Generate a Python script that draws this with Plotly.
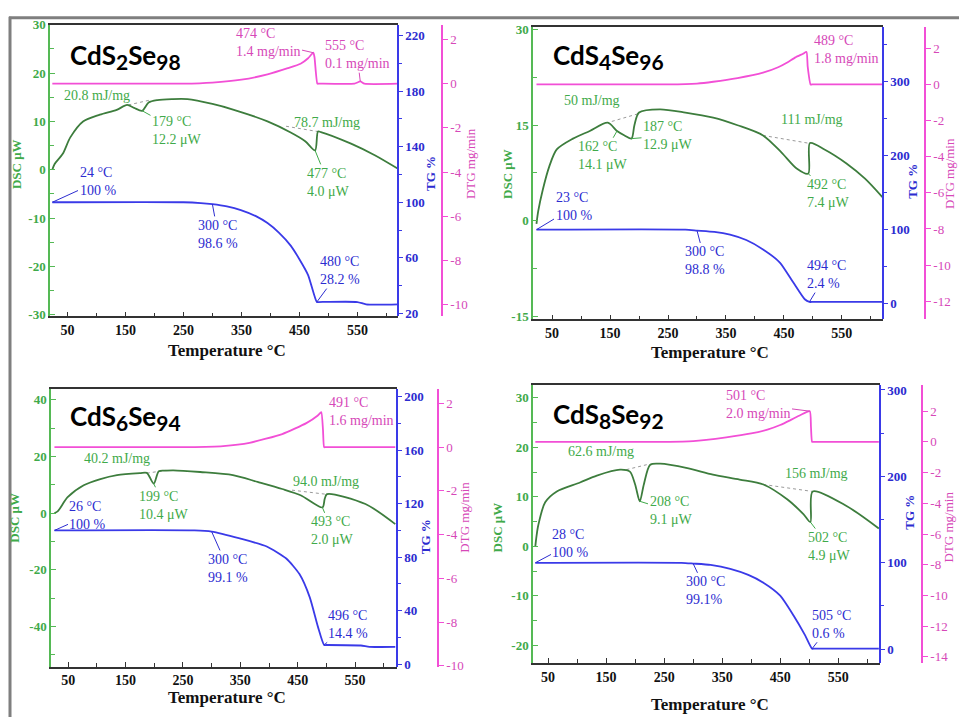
import plotly.graph_objects as go

W, H = 959, 723

# ---------------- data ----------------
# CdS2Se98
s1_dsc_t = [24, 28, 42, 55, 77, 106, 135, 153, 165, 179, 190, 205, 230, 257, 300, 337, 395, 435, 460, 477, 482, 487, 539, 580, 620]
s1_dsc_v = [0, 1.2, 3.3, 6.7, 10.0, 11.4, 12.4, 13.4, 12.8, 12.2, 13.9, 14.4, 14.6, 14.6, 13.6, 12.4, 10.0, 7.7, 5.9, 4.0, 7.9, 7.8, 5.4, 3.0, 0.2]
s1_tg_t = [24, 250, 280, 300, 325, 349, 375, 395, 415, 435, 450, 465, 480, 483, 550, 565, 620]
s1_tg_v = [100, 100, 99.4, 98.6, 97.0, 94.4, 90.0, 85.0, 78.0, 68.8, 59.0, 47.6, 28.2, 28.2, 28.2, 26.5, 26.5]
s1_dtg_t = [24, 250, 300, 350, 395, 430, 452, 465, 474, 476, 481, 484, 545, 555, 562, 620]
s1_dtg_v = [0, 0, 0.05, 0.18, 0.42, 0.7, 0.9, 1.15, 1.4, 1.2, 0, 0, 0, 0.1, 0, 0]
s1_base1_t, s1_base1_v = [155, 192], [13.4, 14.4]
s1_base2_t, s1_base2_v = [427, 487], [9.0, 7.8]

# CdS4Se96
s2_dsc_t = [23, 26, 34, 45, 58, 86, 115, 146, 162, 175, 187, 192, 200, 236, 280, 328, 370, 414, 446, 472, 492, 495, 520, 558, 590, 620]
s2_dsc_v = [-0.5, 1.5, 4.9, 8.5, 11.2, 12.9, 14.1, 15.4, 14.1, 13.4, 12.9, 15.0, 17.0, 17.5, 17.0, 16.2, 15.0, 13.4, 10.7, 8.2, 7.4, 12.2, 11.2, 9.0, 6.6, 3.7]
s2_tg_t = [23, 280, 300, 330, 357, 385, 414, 443, 466, 486, 494, 498, 620]
s2_tg_v = [100, 100, 98.8, 97.0, 93.3, 86.0, 73.3, 55.6, 28.9, 6.0, 2.4, 2.4, 2.4]
s2_dtg_t = [23, 250, 300, 328, 370, 414, 440, 455, 470, 483, 489, 491, 496, 499, 620]
s2_dtg_v = [0, 0, 0.05, 0.15, 0.35, 0.65, 0.95, 1.2, 1.5, 1.7, 1.8, 1.0, 0, 0, 0]
s2_base1_t, s2_base1_v = [153, 202], [15.6, 16.9]
s2_base2_t, s2_base2_v = [414, 491], [13.4, 12.2]

# CdS6Se94
s3_dsc_t = [26, 32, 49, 77, 106, 135, 175, 187, 199, 208, 220, 233, 280, 337, 380, 423, 455, 493, 497, 501, 568, 620]
s3_dsc_v = [0, 0.7, 5.6, 9.8, 12.0, 13.4, 14.1, 14.2, 10.4, 14.8, 15.0, 15.1, 14.5, 13.4, 11.0, 8.5, 6.3, 2.0, 5.0, 6.7, 3.2, -3.9]
s3_tg_t = [26, 270, 300, 349, 396, 430, 453, 471, 485, 496, 500, 560, 575, 620]
s3_tg_v = [100, 100, 99.1, 94.0, 88.0, 79.0, 67.4, 50.0, 28.3, 14.4, 14.4, 14.0, 13.0, 13.0]
s3_dtg_t = [26, 260, 320, 366, 423, 465, 485, 491, 494, 496, 499, 620]
s3_dtg_v = [0, 0, 0.05, 0.2, 0.6, 1.1, 1.45, 1.6, 0.8, 0, 0, 0]
s3_base1_t, s3_base1_v = [187, 221], [14.1, 15.1]
s3_base2_t, s3_base2_v = [440, 497], [8.1, 6.7]

# CdS8Se92
s4_dsc_t = [28, 30, 33, 45, 65, 105, 134, 174, 191, 200, 208, 215, 226, 243, 290, 334, 380, 421, 462, 490, 502, 506, 565, 620]
s4_dsc_v = [0, 2.0, 4.2, 8.9, 11.1, 12.9, 14.3, 15.5, 15.1, 12.5, 9.1, 12.5, 16.5, 16.7, 15.8, 14.5, 13.5, 12.5, 9.5, 6.5, 4.9, 11.1, 8.1, 3.6]
s4_tg_t = [28, 280, 300, 330, 364, 395, 421, 450, 473, 493, 505, 509, 620]
s4_tg_v = [100, 100, 99.1, 97.5, 93.0, 86.0, 77.0, 62.0, 39.0, 16.0, 0.6, 0.6, 0.6]
s4_dtg_t = [28, 250, 300, 357, 400, 428, 450, 467, 485, 501, 503, 505, 508, 620]
s4_dtg_v = [0, 0, 0.05, 0.3, 0.55, 0.8, 1.1, 1.4, 1.75, 2.0, 1.0, 0, 0, 0]
s4_base1_t, s4_base1_v = [185, 220], [15.5, 16.5]
s4_base2_t, s4_base2_v = [421, 505], [12.5, 11.1]

sample_names = [("2", "98"), ("4", "96"), ("6", "94"), ("8", "92")]

x_tick_vals = [50, 150, 250, 350, 450, 550]

# ---------------- style ----------------
GREEN_AX = "#55b955"
GREEN_LINE = "#3d7d3d"
GREEN_TXT = "#3faa4a"
BLUE = "#3a3ae8"
BLUE_TXT = "#2c2cd0"
MAG = "#f24fd6"
MAG_TXT = "#d648b8"
GRAY_BASE = "#9a9a9a"
SERIF = "Liberation Serif"

# plot boxes in pixels: x0, x1, y0(top), y1(bottom), DTG axis x
panels = [
    dict(box=(50, 398, 18, 315), dtg_x=442, xr=(20, 620),
         dsc=(-30.3, 30), dsc_dt=10, dsc_minor=5,
         tg=(17.9, 227.8), tg_dt=40, tg_t0=20, tg_minor=20,
         dtg=(-10.53, 2.67),
         dsc_t=s1_dsc_t, dsc_v=s1_dsc_v, tg_t=s1_tg_t, tg_v=s1_tg_v,
         dtg_t=s1_dtg_t, dtg_v=s1_dtg_v,
         bases=[(s1_base1_t, s1_base1_v), (s1_base2_t, s1_base2_v)],
         title_px=(68, 50), xt_px=(227, 350),
         lab_dsc=(16, 160), lab_tg=(431, 170), lab_dtg=(470, 160)),
    dict(box=(533, 883, 20, 318), dtg_x=925, xr=(17, 621),
         dsc=(-15.5, 30.5), dsc_dt=15, dsc_minor=7.5,
         tg=(-21, 374), tg_dt=100, tg_t0=0, tg_minor=50,
         dtg=(-13.0, 3.2),
         dsc_t=s2_dsc_t, dsc_v=s2_dsc_v, tg_t=s2_tg_t, tg_v=s2_tg_v,
         dtg_t=s2_dtg_t, dtg_v=s2_dtg_v,
         bases=[(s2_base1_t, s2_base1_v), (s2_base2_t, s2_base2_v)],
         title_px=(551, 50), xt_px=(710, 352),
         lab_dsc=(508, 170), lab_tg=(913, 178), lab_dtg=(950, 170)),
    dict(box=(51, 397, 389, 672), dtg_x=438, xr=(20, 623),
         dsc=(-54.3, 43.8), dsc_dt=20, dsc_minor=10,
         tg=(-2, 205.7), tg_dt=40, tg_t0=0, tg_minor=20,
         dtg=(-10.05, 2.66),
         dsc_t=s3_dsc_t, dsc_v=s3_dsc_v, tg_t=s3_tg_t, tg_v=s3_tg_v,
         dtg_t=s3_dtg_t, dtg_v=s3_dtg_v,
         bases=[(s3_base1_t, s3_base1_v), (s3_base2_t, s3_base2_v)],
         title_px=(68, 418), xt_px=(227, 703),
         lab_dsc=(15, 520), lab_tg=(425, 540), lab_dtg=(465, 520)),
    dict(box=(533, 880, 385, 668), dtg_x=922, xr=(24, 622),
         dsc=(-23.6, 32.6), dsc_dt=10, dsc_minor=5,
         tg=(-16, 305.7), tg_dt=100, tg_t0=0, tg_minor=50,
         dtg=(-14.4, 3.7),
         dsc_t=s4_dsc_t, dsc_v=s4_dsc_v, tg_t=s4_tg_t, tg_v=s4_tg_v,
         dtg_t=s4_dtg_t, dtg_v=s4_dtg_v,
         bases=[(s4_base1_t, s4_base1_v), (s4_base2_t, s4_base2_v)],
         title_px=(551, 416), xt_px=(710, 710),
         lab_dsc=(497, 530), lab_tg=(910, 515), lab_dtg=(948, 530)),
]

# value labels: (text, kind, anchor point or None, text centre in px)
labels = [
    [  # CdS2Se98
        ("474 °C<br>1.4 mg/min", "dtg", (474, 1.4), (268, 36)),
        ("555 °C<br>0.1 mg/min", "dtg", (555, 0.1), (357, 49)),
        ("20.8 mJ/mg", "dsc", None, (97, 90)),
        ("179 °C<br>12.2 μW", "dsc", (179, 12.2), (177, 125)),
        ("78.7 mJ/mg", "dsc", None, (327, 118)),
        ("477 °C<br>4.0 μW", "dsc", (477, 4.0), (328, 178)),
        ("24 °C<br>100 %", "tg", (24, 100), (98, 178)),
        ("300 °C<br>98.6 %", "tg", (300, 98.6), (218, 231)),
        ("480 °C<br>28.2 %", "tg", (480, 28.2), (340, 269)),
    ],
    [  # CdS4Se96
        ("489 °C<br>1.8 mg/min", "dtg", None, (846, 43)),
        ("50 mJ/mg", "dsc", None, (592, 95)),
        ("162 °C<br>14.1 μW", "dsc", (162, 14.1), (603, 151)),
        ("187 °C<br>12.9 μW", "dsc", (187, 12.9), (668, 131)),
        ("111 mJ/mg", "dsc", None, (812, 115)),
        ("492 °C<br>7.4 μW", "dsc", (492, 7.4), (828, 190)),
        ("23 °C<br>100 %", "tg", (23, 100), (574, 204)),
        ("300 °C<br>98.8 %", "tg", (300, 98.8), (705, 258)),
        ("494 °C<br>2.4 %", "tg", (494, 2.4), (826, 273)),
    ],
    [  # CdS6Se94
        ("491 °C<br>1.6 mg/min", "dtg", None, (361, 412)),
        ("40.2 mJ/mg", "dsc", None, (117, 460)),
        ("199 °C<br>10.4 μW", "dsc", (199, 10.4), (164, 507)),
        ("94.0 mJ/mg", "dsc", None, (326, 483)),
        ("493 °C<br>2.0 μW", "dsc", (493, 2.0), (332, 533)),
        ("26 °C<br>100 %", "tg", (26, 100), (88, 518)),
        ("300 °C<br>99.1 %", "tg", (300, 99.1), (228, 571)),
        ("496 °C<br>14.4 %", "tg", (496, 14.4), (348, 629)),
    ],
    [  # CdS8Se92
        ("501 °C<br>2.0 mg/min", "dtg", (501, 2.0), (758, 405)),
        ("62.6 mJ/mg", "dsc", None, (601, 453)),
        ("208 °C<br>9.1 μW", "dsc", (208, 9.1), (671, 513)),
        ("156 mJ/mg", "dsc", None, (816, 475)),
        ("502 °C<br>4.9 μW", "dsc", (502, 4.9), (829, 549)),
        ("28 °C<br>100 %", "tg", (28, 100), (571, 547)),
        ("300 °C<br>99.1%", "tg", (300, 99.1), (706, 594)),
        ("505 °C<br>0.6 %", "tg", (505, 0.6), (831, 629)),
    ],
]


def ref(prefix, i):
    return prefix if i == 1 else f"{prefix}{i}"


def lay_key(prefix, i):
    return f"{prefix}axis" if i == 1 else f"{prefix}axis{i}"


def px2paper_x(x):
    return x / W


def px2paper_y(y):
    return 1 - y / H


def tick_list(lo, hi, t0, dt):
    """Major tick values inside [lo, hi] with plain hyphen-minus labels."""
    vals = []
    n = int((lo - t0) // dt) - 1
    while True:
        v = t0 + n * dt
        if v > hi + 1e-9:
            break
        if v >= lo - 1e-9:
            vals.append(round(v, 6))
        n += 1
    texts = ["%g" % v for v in vals]
    return vals, texts


fig = go.Figure()
annotations = []
shapes = []

for k, p in enumerate(panels):
    x0, x1, y0, y1 = p["box"]
    xi = k + 1
    yd, yt, ym = 3 * k + 1, 3 * k + 2, 3 * k + 3
    xdom = [px2paper_x(x0), px2paper_x(x1)]
    ydom = [px2paper_y(y1), px2paper_y(y0)]

    # traces
    for bt, bv in p["bases"]:
        fig.add_trace(go.Scatter(x=bt, y=bv, mode="lines", xaxis=ref("x", xi), yaxis=ref("y", yd),
                                 line=dict(color=GRAY_BASE, width=1, dash="dot"), showlegend=False,
                                 hoverinfo="skip"))
    fig.add_trace(go.Scatter(x=p["dsc_t"], y=p["dsc_v"], mode="lines", xaxis=ref("x", xi), yaxis=ref("y", yd),
                             line=dict(color=GREEN_LINE, width=1.8, shape="spline", smoothing=0.8),
                             showlegend=False))
    fig.add_trace(go.Scatter(x=p["tg_t"], y=p["tg_v"], mode="lines", xaxis=ref("x", xi), yaxis=ref("y", yt),
                             line=dict(color=BLUE, width=1.8, shape="spline", smoothing=0.6),
                             showlegend=False))
    fig.add_trace(go.Scatter(x=p["dtg_t"], y=p["dtg_v"], mode="lines", xaxis=ref("x", xi), yaxis=ref("y", ym),
                             line=dict(color=MAG, width=1.8, shape="spline", smoothing=0.5),
                             showlegend=False))

    tick_font = dict(family=SERIF, size=13, weight="bold")

    fig.layout[lay_key("x", xi)] = dict(
        domain=xdom, anchor=ref("y", yd), range=list(p["xr"]),
        tickmode="array", tickvals=x_tick_vals, ticks="inside", ticklen=5, tickwidth=1,
        tickcolor="#333", showline=True, linecolor="#333", linewidth=1.5, mirror=True,
        minor=dict(tickmode="linear", tick0=0, dtick=50, ticks="inside", ticklen=4, tickcolor="#333"),
        showgrid=False, zeroline=False, tickfont=dict(family=SERIF, size=14, weight="bold", color="#111"),
    )
    dv, dtx = tick_list(p["dsc"][0], p["dsc"][1], 0, p["dsc_dt"])
    fig.layout[lay_key("y", yd)] = dict(
        domain=ydom, anchor=ref("x", xi), range=list(p["dsc"]),
        tickmode="array", tickvals=dv, ticktext=dtx, ticks="inside", ticklen=5, tickcolor=GREEN_AX,
        minor=dict(tickmode="linear", tick0=0, dtick=p["dsc_minor"], ticks="inside", ticklen=4,
                   tickcolor=GREEN_AX),
        showline=True, linecolor=GREEN_AX, linewidth=1.5, showgrid=False, zeroline=False,
        tickfont=dict(tick_font, color=GREEN_TXT),
    )
    tv, ttx = tick_list(p["tg"][0], p["tg"][1], p["tg_t0"], p["tg_dt"])
    fig.layout[lay_key("y", yt)] = dict(
        overlaying=ref("y", yd), side="right", anchor="free", position=px2paper_x(x1),
        range=list(p["tg"]), tickmode="array", tickvals=tv, ticktext=ttx,
        ticks="outside", ticklen=4, tickcolor=BLUE,
        minor=dict(tickmode="linear", tick0=p["tg_t0"], dtick=p["tg_minor"], ticks="outside",
                   ticklen=3, tickcolor=BLUE),
        showline=True, linecolor=BLUE, linewidth=1.5, showgrid=False, zeroline=False,
        tickfont=dict(tick_font, color=BLUE_TXT),
    )
    mv, mtx = tick_list(p["dtg"][0], p["dtg"][1], 0, 2)
    fig.layout[lay_key("y", ym)] = dict(
        overlaying=ref("y", yd), side="right", anchor="free", position=px2paper_x(p["dtg_x"]),
        range=list(p["dtg"]), tickmode="array", tickvals=mv, ticktext=mtx,
        ticks="outside", ticklen=5, tickcolor=MAG,
        showline=True, linecolor=MAG, linewidth=1.5, showgrid=False, zeroline=False,
        tickfont=dict(family=SERIF, size=13, color=MAG_TXT),
    )

    # sample name
    tx, ty = p["title_px"]
    s_sub, se_sub = sample_names[k]
    name = (f"<b>CdS<sub><span style='font-size:21px'>{s_sub}</span></sub>"
            f"Se<sub><span style='font-size:21px'>{se_sub}</span></sub></b>")
    annotations.append(dict(text=name, x=px2paper_x(tx), y=px2paper_y(ty),
                            xref="paper", yref="paper", xanchor="left", yanchor="middle",
                            showarrow=False, font=dict(family="Lato", size=26, color="black")))
    # x axis title
    tx, ty = p["xt_px"]
    annotations.append(dict(text="<b>Temperature °C</b>", x=px2paper_x(tx), y=px2paper_y(ty),
                            xref="paper", yref="paper", xanchor="center", yanchor="middle",
                            showarrow=False, font=dict(family=SERIF, size=17, color="#111")))
    # y axis titles
    for key, txt, col in (("lab_dsc", "DSC μW", GREEN_TXT), ("lab_tg", "TG %", BLUE_TXT),
                          ("lab_dtg", "DTG mg/min", MAG_TXT)):
        lx, ly = p[key]
        annotations.append(dict(text=f"<b>{txt}</b>" if key != "lab_dtg" else txt,
                                x=px2paper_x(lx), y=px2paper_y(ly),
                                xref="paper", yref="paper", xanchor="center", yanchor="middle",
                                textangle=-90, showarrow=False,
                                font=dict(family=SERIF, size=13, color=col)))

    # value labels with leader lines
    axis_of = {"dsc": (yd, p["dsc"], GREEN_TXT), "tg": (yt, p["tg"], BLUE_TXT),
               "dtg": (ym, p["dtg"], MAG_TXT)}
    for text, kind, pt, (cx, cy) in labels[k]:
        yid, yr, col = axis_of[kind]
        font = dict(family=SERIF, size=14, color=col)
        if pt is None:
            annotations.append(dict(text=text, x=px2paper_x(cx), y=px2paper_y(cy), xref="paper",
                                    yref="paper", xanchor="center", yanchor="middle",
                                    showarrow=False, font=font, align="left"))
        else:
            t, v = pt
            ppx = x0 + (t - p["xr"][0]) / (p["xr"][1] - p["xr"][0]) * (x1 - x0)
            ppy = y1 - (v - yr[0]) / (yr[1] - yr[0]) * (y1 - y0)
            annotations.append(dict(text=text, x=t, y=v, xref=ref("x", xi), yref=ref("y", yid),
                                    ax=cx - ppx, ay=cy - ppy, showarrow=True, arrowhead=0,
                                    arrowwidth=1, arrowcolor=col, standoff=0, font=font,
                                    align="left"))

# outer frame
shapes.append(dict(type="line", xref="paper", yref="paper", x0=px2paper_x(10), x1=px2paper_x(10),
                   y0=px2paper_y(10), y1=0, line=dict(color="#7f7f7f", width=3)))
shapes.append(dict(type="line", xref="paper", yref="paper", x0=px2paper_x(9), x1=1,
                   y0=px2paper_y(11), y1=px2paper_y(11), line=dict(color="#7f7f7f", width=3)))

fig.update_layout(width=W, height=H, margin=dict(l=0, r=0, t=0, b=0),
                  paper_bgcolor="white", plot_bgcolor="white",
                  annotations=annotations, shapes=shapes, showlegend=False)

fig.write_html("out.html")
